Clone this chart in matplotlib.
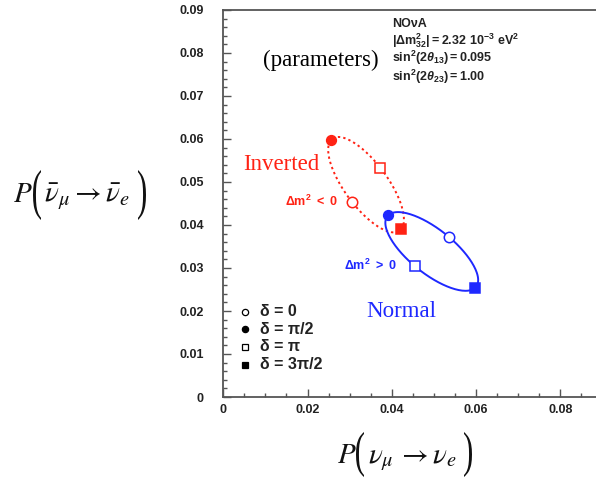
import numpy as np
import matplotlib.pyplot as plt
from matplotlib.ticker import MultipleLocator
from matplotlib.textpath import TextPath
from matplotlib.patches import PathPatch
from matplotlib.font_manager import FontProperties
from matplotlib.transforms import Affine2D

plt.rcParams['font.family'] = ['Liberation Sans', 'DejaVu Sans']
plt.rcParams['mathtext.fontset'] = 'custom'
plt.rcParams['mathtext.rm'] = 'Liberation Sans:bold'
plt.rcParams['mathtext.it'] = 'Liberation Sans:bold:italic'
plt.rcParams['mathtext.bf'] = 'Liberation Sans:bold'

# ---------------------------
# DATA, order: delta = 0, pi/2, pi, 3pi/2
# ---------------------------
deltas = ["0", "π/2", "π", "3π/2"]
markers = ["o", "o", "s", "s"]
filled = [False, True, False, True]

normal_x = [0.0536, 0.0392, 0.0455, 0.0597]
normal_y = [0.0373, 0.0423, 0.0305, 0.0253]

inverted_x = [0.0305, 0.0256, 0.0372, 0.0423]
inverted_y = [0.0453, 0.0598, 0.0533, 0.0391]

RED = "#ff2214"
BLUE = "#1e28ff"
AXC = "#555555"
W, H = 596, 482


def ellipse(px, py, n=200):
    # P(delta) = c + a cos(delta) + b sin(delta)
    px = np.asarray(px)
    py = np.asarray(py)
    t = np.linspace(0, 2 * np.pi, n)
    cx, cy = px.mean(), py.mean()
    ax_, ay_ = (px[0] - px[2]) / 2, (py[0] - py[2]) / 2
    bx_, by_ = (px[1] - px[3]) / 2, (py[1] - py[3]) / 2
    return cx + ax_ * np.cos(t) + bx_ * np.sin(t), cy + ay_ * np.cos(t) + by_ * np.sin(t)


def paren(fig, ch, x0, x1, ytop, ybot):
    # tall thin bracket, box given in pixels from top-left
    fp = FontProperties(family="Liberation Serif")
    path = TextPath((0, 0), ch, size=1, prop=fp)
    bb = path.get_extents()
    tr = (Affine2D().translate(-bb.x0, -bb.y0)
          .scale((x1 - x0) / W / bb.width, (ybot - ytop) / H / bb.height)
          .translate(x0 / W, 1 - ybot / H))
    fig.add_artist(PathPatch(path, transform=tr + fig.transFigure,
                             color="#111111", lw=0))


def pixtext(fig, x, y, s, **kw):
    return fig.text(x / W, 1 - y / H, s, **kw)


fig = plt.figure(figsize=(5.96, 4.82), dpi=100)
ax = fig.add_axes([223.3 / W, 1 - 397 / H, 1 - 223.3 / W, (397 - 10) / H])

# ---------------------------
# ELLIPSES
# ---------------------------
ex, ey = ellipse(inverted_x, inverted_y)
ax.plot(ex, ey, color=RED, lw=1.4, ls=(0, (1.2, 1.6)))
ex, ey = ellipse(normal_x, normal_y)
ax.plot(ex, ey, color=BLUE, lw=1.4)

for i in range(4):
    for xs, ys, c in [(inverted_x, inverted_y, RED), (normal_x, normal_y, BLUE)]:
        ax.plot(xs[i], ys[i], marker=markers[i], ms=7 if filled[i] else 7.5,
                mfc=c if filled[i] else "white", mec=c, mew=1.1, ls="none")

# ---------------------------
# AXES STYLE
# ---------------------------
ax.set_xlim(0, 0.0885)
ax.set_ylim(0, 0.09)
ax.xaxis.set_major_locator(MultipleLocator(0.02))
ax.xaxis.set_minor_locator(MultipleLocator(0.005))
ax.yaxis.set_major_locator(MultipleLocator(0.01))
ax.yaxis.set_minor_locator(MultipleLocator(0.002))
ax.xaxis.set_major_formatter(lambda v, p: "0" if v == 0 else f"{v:g}")
ax.yaxis.set_major_formatter(lambda v, p: "0" if v == 0 else f"{v:g}")
ax.tick_params(which="both", direction="in", color=AXC, labelcolor="#222222",
               labelsize=9, width=1.0)
ax.tick_params(which="major", length=6)
ax.tick_params(which="minor", length=3)
ax.tick_params(axis="y", pad=14)
ax.tick_params(axis="x", pad=5)
for lbl in ax.get_xticklabels() + ax.get_yticklabels():
    lbl.set_fontweight("bold")
ax.spines["right"].set_visible(False)
for s in ["left", "bottom", "top"]:
    ax.spines[s].set_color(AXC)
    ax.spines[s].set_linewidth(1.3)

# ---------------------------
# TEXT
# ---------------------------
fs = 9
tc = "#222222"
ax.text(0.0400, 0.0861, "NOνA", fontsize=fs, fontweight="bold", va="baseline", color=tc)
ax.text(0.0400, 0.0819, r"$|\Delta\mathrm{m}^2_{32}| = 2.32\ 10^{-3}\ \mathrm{eV}^2$",
        fontsize=fs, va="baseline", color=tc)
ax.text(0.0400, 0.0778, r"$\mathrm{sin}^2(2\theta_{13}) = 0.095$",
        fontsize=fs, va="baseline", color=tc)
ax.text(0.0400, 0.0736, r"$\mathrm{sin}^2(2\theta_{23}) = 1.00$",
        fontsize=fs, va="baseline", color=tc)

serif = dict(family=["Liberation Serif", "DejaVu Serif"], fontsize=16.5)
ax.text(0.0369, 0.0783, "(parameters)", ha="right", va="center", **serif)
ax.text(0.0138, 0.0540, "Inverted", color=RED, ha="center", va="center", **serif)
ax.text(0.0422, 0.0198, "Normal", color=BLUE, ha="center", va="center", **serif)

ax.text(0.0273, 0.0454, r"$\Delta\mathrm{m}^2\ <\ 0$", color=RED, fontsize=9,
        ha="right", va="center")
ax.text(0.0413, 0.0305, r"$\Delta\mathrm{m}^2\ >\ 0$", color=BLUE, fontsize=9,
        ha="right", va="center")

# legend
leg_y = [0.0198, 0.0157, 0.0117, 0.0075]
for i in range(4):
    ax.plot(0.0051, leg_y[i], marker=markers[i], ms=4.5, color="black",
            mfc="black" if filled[i] else "white", mec="black", mew=0.9, ls="none")
    ax.text(0.0087, leg_y[i], "δ = " + deltas[i], fontsize=11.5, fontweight="bold",
            va="center", color=tc)

# axis titles: P( ... ) with tall brackets
lab = dict(fontsize=21, math_fontfamily="stix", va="baseline", color="#111111")
pixtext(fig, 13, 202, r"$P$", **lab)
paren(fig, "(", 33, 41, 170, 220)
pixtext(fig, 44, 202, r"$\bar{\nu}_{\mu}\rightarrow\bar{\nu}_{e}$", **lab)
paren(fig, ")", 138, 146, 170, 220)

pixtext(fig, 337, 463, r"$P$", **lab)
paren(fig, "(", 356, 364, 432, 477)
pixtext(fig, 368, 463, r"$\nu_{\mu}\,\rightarrow\nu_{e}$", **lab)
paren(fig, ")", 464, 472, 432, 477)

fig.savefig("out.png", dpi=100)
